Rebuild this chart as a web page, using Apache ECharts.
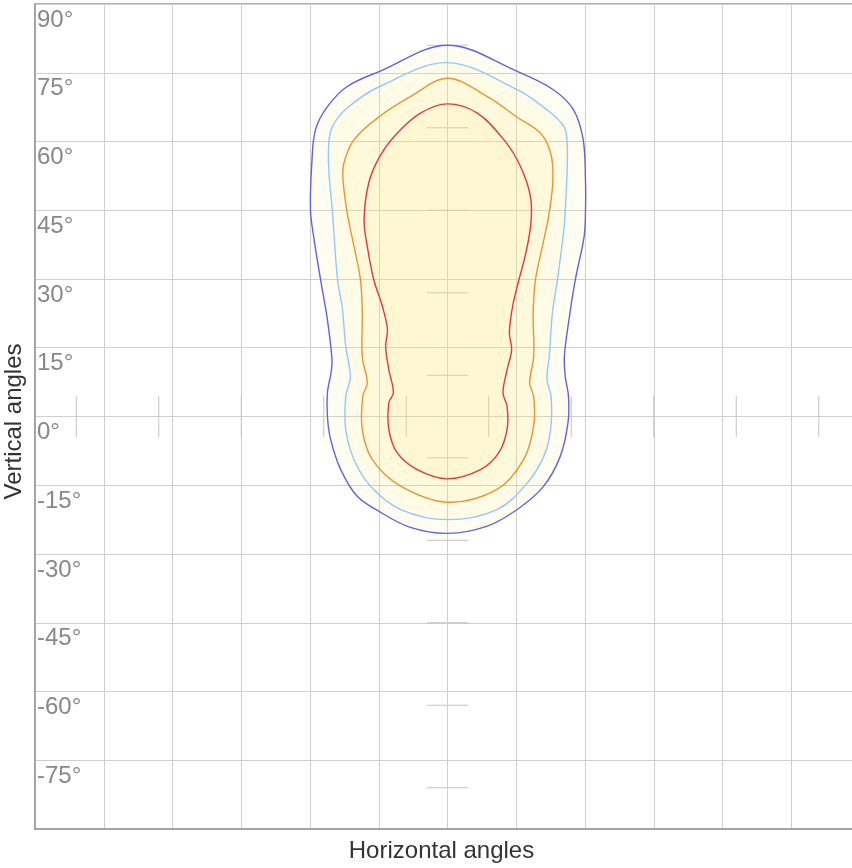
<!DOCTYPE html>
<html>
<head>
<meta charset="utf-8">
<script src="https://cdn.jsdelivr.net/npm/echarts@6/dist/echarts.min.js"></script>
<style>
html,body{margin:0;padding:0;background:#fff;}
#chart{width:852px;height:868px;}
</style>
</head>
<body>
<div id="chart"></div>
<script>
// Contours: [horizontal angle, vertical angle]
const contourBlue = [
  [0,81],[15.2,75.3],[23.1,71.3],[27.5,66.9],[29.6,60.4],[30.1,51.7],[30.1,44.5],[29.8,39.2],
  [27.9,29.9],[26.5,21.1],[25.5,13.1],[25.7,8.7],[26.4,4.4],[26.3,-1.3],[24.6,-8.7],[20.9,-15.3],
  [15.2,-20.3],[8.7,-23.9],[0,-25.5],[-8.1,-24.2],[-14.6,-20.9],[-19.7,-17.4],[-23.3,-11.6],
  [-25.5,-5.0],[-26.2,0],[-26.2,5.2],[-25.4,9.6],[-25.2,12.4],[-26.2,21.1],[-27.7,29.9],
  [-29.2,39.2],[-29.9,45.1],[-29.6,55.4],[-28.8,62.6],[-26.2,67.6],[-21.9,72.0],[-14.8,75.3]
];
const contourLightBlue = [
  [0,77.2],[15.2,71.3],[21.7,66.9],[25.4,63.3],[26.1,59.7],[26.1,53.8],[25.7,45.1],[25.4,40.8],
  [24.0,29.9],[22.9,22.7],[22.2,13.1],[21.7,8.1],[22.6,4.4],[22.5,-2.8],[21.0,-8.7],[17.4,-14.5],
  [10.8,-20.3],[0,-22.5],[-10.2,-20.3],[-16.8,-15.2],[-20.4,-9.4],[-22.2,-2.8],[-22.2,4.4],
  [-21.2,8.6],[-22.2,15.3],[-23.0,24.0],[-24.0,29.9],[-25.1,44.5],[-25.9,53.8],[-25.9,59.7],
  [-25.1,63.3],[-21.9,67.3],[-14.8,72.0]
];
const contourOrange = [
  [0,73.8],[8.7,69.8],[15.2,65.3],[20.3,61.8],[22.5,57.5],[23.0,51.7],[22.2,44.5],[20.7,37.1],
  [19.2,29.9],[18.7,22.7],[18.8,13.1],[17.9,7.3],[18.8,4.4],[18.8,-2.1],[16.6,-9.4],[10.8,-15.9],
  [0,-18.7],[-10.2,-15.2],[-16.4,-9.4],[-18.6,-2.8],[-18.5,4.4],[-17.5,7.3],[-18.6,13.1],
  [-18.6,22.7],[-19.0,29.9],[-20.4,37.1],[-21.9,44.5],[-22.8,51.7],[-22.6,55.3],[-20.4,60.4],
  [-14.8,65.5],[-8.1,69.8]
];
const contourRed = [
  [0,68.2],[6.5,66.2],[12.3,60.4],[15.9,54.6],[18.1,48.0],[18.2,42.2],[17.1,35.7],[15.6,29.9],
  [14.2,24.0],[13.5,18.2],[14.0,14.6],[13.0,10.2],[12.1,5.2],[13.0,2.2],[13.0,-2.8],[11.2,-7.9],
  [7.2,-11.6],[0,-13.6],[-6.6,-11.6],[-11.0,-7.9],[-12.8,-2.8],[-12.8,3.0],[-11.8,5.2],
  [-12.8,10.2],[-13.5,15.3],[-13.1,19.0],[-14.2,24.0],[-16.1,29.9],[-17.5,37.1],[-18.2,42.9],
  [-17.2,50.9],[-14.8,56.7],[-11.0,61.8],[-5.9,66.2]
];
// Reference marks
const hMarkY = [81,63,45,27,9,-9,-27,-45,-63,-81];
const vMarkX = [-81,-63,-45,-27,-9,9,27,45,63,81];
const axisMin = -90, axisMax = 90, axisStep = 15;

const FONT = '"Liberation Sans", Arial, Helvetica, sans-serif';
const chart = echarts.init(document.getElementById('chart'));

function contourSeries(name, pts, stroke, z) {
  return {
    type: 'custom', name: name, coordinateSystem: 'cartesian2d', silent: true, z: z,
    data: [pts[0]],
    renderItem: function (params, api) {
      return {
        type: 'polygon',
        shape: { points: pts.map(function (p) { return api.coord(p); }), smooth: 0.35 },
        style: { fill: 'rgba(255,236,110,0.09)', stroke: stroke, lineWidth: 1.4 }
      };
    }
  };
}

const halfLen = 4.5;
const markSeries = [
  {
    type: 'custom', coordinateSystem: 'cartesian2d', silent: true, z: 1,
    data: hMarkY.map(function (y) { return [0, y]; }),
    renderItem: function (params, api) {
      const x = api.value(0), y = api.value(1);
      const a = api.coord([x - halfLen, y]), b = api.coord([x + halfLen, y]);
      return { type: 'line', shape: { x1: a[0], y1: a[1], x2: b[0], y2: b[1] },
        style: { stroke: '#c4c4c4', lineWidth: 1 } };
    }
  },
  {
    type: 'custom', coordinateSystem: 'cartesian2d', silent: true, z: 1,
    data: vMarkX.map(function (x) { return [x, 0]; }),
    renderItem: function (params, api) {
      const x = api.value(0), y = api.value(1);
      const a = api.coord([x, y - halfLen]), b = api.coord([x, y + halfLen]);
      return { type: 'line', shape: { x1: a[0], y1: a[1], x2: b[0], y2: b[1] },
        style: { stroke: '#c4c4c4', lineWidth: 1 } };
    }
  }
];

chart.setOption({
  animation: false,
  backgroundColor: '#fff',
  textStyle: { fontFamily: FONT },
  grid: { left: 35, top: 4, right: -8, bottom: 39, outerBoundsMode: 'none', containLabel: false,
    show: true, borderColor: '#9a9a9a', borderWidth: 1.5, backgroundColor: 'transparent' },
  xAxis: {
    type: 'value', min: axisMin, max: axisMax, interval: axisStep,
    name: 'Horizontal angles', nameLocation: 'middle', nameGap: 10,
    nameTextStyle: { fontSize: 24, color: '#333', fontFamily: FONT, padding: [0, 12, 0, 0] },
    axisLine: { show: true, onZero: false, lineStyle: { color: '#9a9a9a', width: 1.5 } },
    axisTick: { show: false },
    axisLabel: { show: false },
    splitLine: { show: true, lineStyle: { color: '#cfcfcf', width: 1 } }
  },
  yAxis: {
    type: 'value', min: axisMin, max: axisMax, interval: axisStep,
    name: 'Vertical angles', nameLocation: 'middle', nameGap: 5,
    nameTextStyle: { fontSize: 24, color: '#333', fontFamily: FONT, padding: [0, 10, 0, 0] },
    axisLine: { show: true, onZero: false, lineStyle: { color: '#9a9a9a', width: 1.5 } },
    axisTick: { show: false },
    axisLabel: {
      inside: true, margin: 2, fontSize: 24, color: '#888', fontFamily: FONT,
      verticalAlign: 'top', padding: [4, 0, 0, 0],
      formatter: function (v) { return v === axisMin ? '' : v + '°'; }
    },
    splitLine: { show: true, lineStyle: { color: '#cfcfcf', width: 1 } }
  },
  series: markSeries.concat([
    contourSeries('c1', contourBlue, '#6262e2', 2),
    contourSeries('c2', contourLightBlue, '#92c8fb', 3),
    contourSeries('c3', contourOrange, '#e8962e', 4),
    contourSeries('c4', contourRed, '#e2393d', 5)
  ])
});
</script>
</body>
</html>
